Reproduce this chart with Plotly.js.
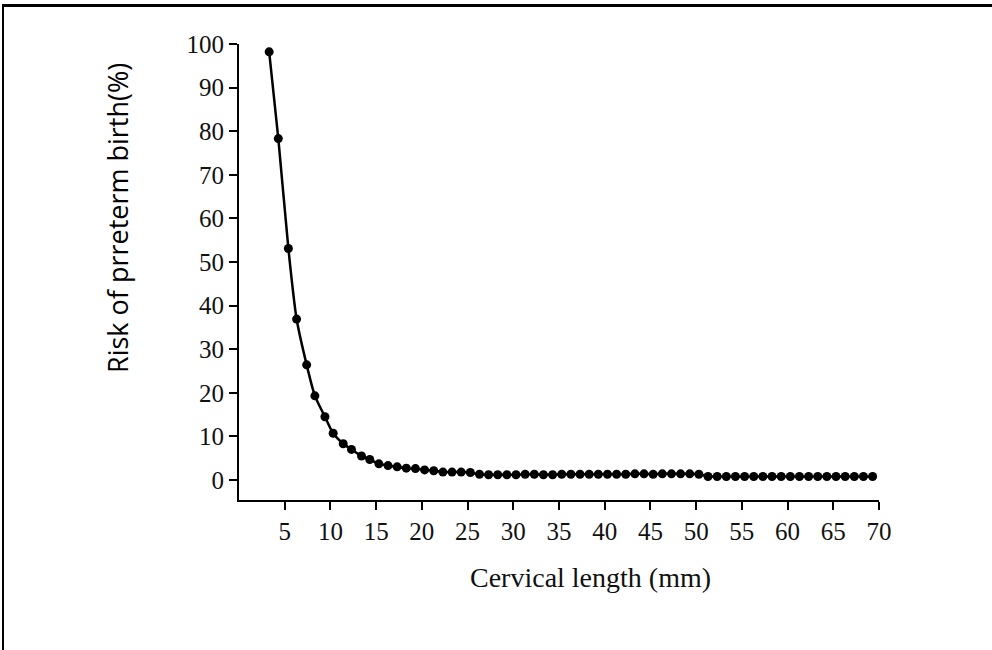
<!DOCTYPE html>
<html>
<head>
<meta charset="utf-8">
<script src="https://cdn.plot.ly/plotly-3.0.1.min.js"></script>
<style>
  html, body { margin: 0; padding: 0; background: #fff; }
  #wrap { position: relative; width: 992px; height: 650px; }
  #frame { position: absolute; left: 2px; top: 4px; width: 990px; height: 646px;
           border-top: 3px solid #000; border-left: 2px solid #000; box-sizing: border-box; pointer-events: none; z-index: 5; }
  #chart { position: absolute; left: 0; top: 0; width: 992px; height: 650px; }
</style>
</head>
<body>
<div id="wrap">
  <div id="chart"></div>
  <div id="frame"></div>
</div>
<script>
// Cervical length (mm)
var cervicalLength = [3.3, 4.3, 5.4, 6.3, 7.4, 8.3, 9.4, 10.3, 11.4, 12.3, 13.4, 14.3, 15.3,
  16.3, 17.3, 18.3, 19.3, 20.3, 21.3, 22.3, 23.3, 24.3, 25.3, 26.3, 27.3, 28.3, 29.3, 30.3,
  31.3, 32.3, 33.3, 34.3, 35.3, 36.3, 37.3, 38.3, 39.3, 40.3, 41.3, 42.3, 43.3, 44.3, 45.3,
  46.3, 47.3, 48.3, 49.3, 50.3, 51.3, 52.3, 53.3, 54.3, 55.3, 56.3, 57.3, 58.3, 59.3, 60.3,
  61.3, 62.3, 63.3, 64.3, 65.3, 66.3, 67.3, 68.3, 69.3];

// Risk of preterm birth (%)
var riskPercent = [98.2, 78.3, 53.1, 36.9, 26.4, 19.3, 14.5, 10.7, 8.3, 7.0, 5.5, 4.7, 3.7,
  3.3, 3.0, 2.7, 2.6, 2.3, 2.1, 1.8, 1.8, 1.8, 1.7, 1.3, 1.2, 1.2, 1.2, 1.2,
  1.3, 1.3, 1.2, 1.2, 1.3, 1.3, 1.3, 1.3, 1.3, 1.3, 1.3, 1.3, 1.4, 1.4, 1.3,
  1.4, 1.4, 1.4, 1.4, 1.3, 0.8, 0.8, 0.8, 0.8, 0.8, 0.8, 0.8, 0.8, 0.8, 0.8,
  0.8, 0.8, 0.8, 0.8, 0.8, 0.8, 0.8, 0.8, 0.8];

var xTickVals = [5, 10, 15, 20, 25, 30, 35, 40, 45, 50, 55, 60, 65, 70];
var yTickVals = [0, 10, 20, 30, 40, 50, 60, 70, 80, 90, 100];

var xTitle = 'Cervical length (mm)';
var yTitle = 'Risk of prreterm birth(%)';

var trace = {
  x: cervicalLength,
  y: riskPercent,
  type: 'scatter',
  mode: 'lines+markers',
  line: { color: '#000', width: 2.5, shape: 'spline', smoothing: 0.6 },
  marker: { color: '#000', size: 9, symbol: 'circle' },
  cliponaxis: false,
  hoverinfo: 'x+y'
};

var serif = 'Liberation Serif, Times New Roman, serif';
var sans = 'Open Sans, Liberation Sans, sans-serif';

var layout = {
  width: 992, height: 650,
  margin: { l: 239, r: 113, t: 44, b: 150 },
  paper_bgcolor: '#fff', plot_bgcolor: '#fff',
  showlegend: false,
  xaxis: {
    range: [0, 70],
    tickmode: 'array', tickvals: xTickVals, ticktext: xTickVals.map(String),
    ticks: 'outside', ticklen: 8, tickwidth: 2, tickcolor: '#000',
    showline: true, linecolor: '#000', linewidth: 2,
    showgrid: false, zeroline: false,
    tickfont: { family: serif, size: 25, color: '#111' },
    automargin: false
  },
  yaxis: {
    range: [-4.6, 100],
    tickmode: 'array', tickvals: yTickVals, ticktext: yTickVals.map(String),
    ticks: 'outside', ticklen: 8, tickwidth: 2, tickcolor: '#000',
    showline: true, linecolor: '#000', linewidth: 2,
    showgrid: false, zeroline: false,
    tickfont: { family: serif, size: 25, color: '#111' },
    automargin: false
  },
  annotations: [
    { text: xTitle, xref: 'paper', yref: 'paper', x: (590 - 239) / 640, y: (500 - 577) / 456,
      xanchor: 'center', yanchor: 'middle', showarrow: false,
      font: { family: serif, size: 28, color: '#111' } },
    { text: yTitle, xref: 'paper', yref: 'paper', x: (118 - 239) / 640, y: (500 - 218) / 456,
      xanchor: 'center', yanchor: 'middle', textangle: -90, showarrow: false,
      font: { family: sans, size: 27, color: '#000' } }
  ]
};

Plotly.newPlot('chart', [trace], layout, { displayModeBar: false, staticPlot: true });
</script>
</body>
</html>
